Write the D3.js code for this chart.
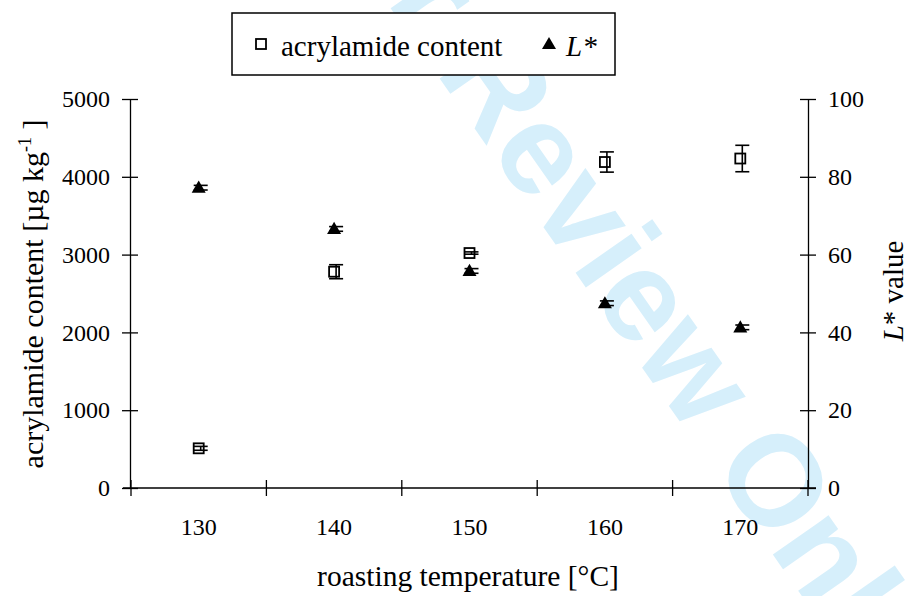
<!DOCTYPE html>
<html>
<head>
<meta charset="utf-8">
<script src="https://cdn.jsdelivr.net/npm/d3@7"></script>
<style>
  body { margin: 0; background: #fff; }
  svg text { font-family: "Liberation Serif", "Times New Roman", serif; fill: #000; }
</style>
</head>
<body>
<svg id="chart" width="909" height="596"></svg>
<script>
// data
const temperatures = ['130', '140', '150', '160', '170'];
const acrylamide = [510, 2780, 3020, 4190, 4235];
const acrylamideErr = [25, 90, 15, 130, 170];
const lightness = [77.2, 66.6, 55.8, 47.5, 41.3];
const lightnessErr = [0.6, 0.6, 0.6, 0.6, 0.6];
const leftTicks = [0, 1000, 2000, 3000, 4000, 5000];
const rightTicks = [0, 20, 40, 60, 80, 100];

const svg = d3.select('#chart');

const plotLeft = 131, plotRight = 808, plotTop = 99, plotBottom = 488;

const x = d3.scaleBand().domain(temperatures).range([plotLeft, plotRight]).padding(0);
const yL = d3.scaleLinear().domain([0, 5000]).range([plotBottom, plotTop]);
const yR = d3.scaleLinear().domain([0, 100]).range([plotBottom, plotTop]);

// watermark behind the chart
svg.append('text')
  .attr('transform', 'translate(295,-128) rotate(55)')
  .style('font-family', '"Liberation Sans", Arial, sans-serif')
  .style('font-weight', 'bold')
  .style('font-size', '129px')
  .style('fill', '#d6effb')
  .text('For Review Only');

// axes
function styleAxis(g) {
  g.attr('font-family', null).attr('font-size', null);
  g.selectAll('path.domain').attr('stroke', '#000').attr('stroke-width', 1.3);
  g.selectAll('.tick line').attr('stroke', '#000').attr('stroke-width', 1.3);
  g.selectAll('.tick text').style('font-size', '24px');
}

const gL = svg.append('g')
  .attr('transform', `translate(${plotLeft - 1},0)`)
  .call(d3.axisLeft(yL).tickValues(leftTicks).tickFormat(d3.format('d'))
    .tickSize(8).tickSizeOuter(0).tickPadding(12));
gL.selectAll('.tick line').attr('x2', 8).attr('x1', -8);
styleAxis(gL);

const gR = svg.append('g')
  .attr('transform', `translate(${plotRight},0)`)
  .call(d3.axisRight(yR).tickValues(rightTicks).tickFormat(d3.format('d'))
    .tickSize(8).tickSizeOuter(0).tickPadding(12));
gR.selectAll('.tick line').attr('x1', -8).attr('x2', 8);
styleAxis(gR);

// x axis: ticks at band edges, labels at band centres
const gX = svg.append('g').attr('transform', `translate(0,${plotBottom})`);
gX.append('line').attr('x1', plotLeft - 8).attr('x2', plotRight + 8).attr('stroke', '#000').attr('stroke-width', 1.3);
const edges = temperatures.map(d => x(d)).concat([x(temperatures[temperatures.length - 1]) + x.bandwidth()]);
gX.selectAll('line.edge').data(edges).enter().append('line')
  .attr('class', 'edge')
  .attr('x1', d => d).attr('x2', d => d)
  .attr('y1', -8).attr('y2', 8)
  .attr('stroke', '#000').attr('stroke-width', 1.3);
gX.selectAll('text').data(temperatures).enter().append('text')
  .attr('x', d => x(d) + x.bandwidth() / 2)
  .attr('y', 47)
  .attr('text-anchor', 'middle')
  .style('font-size', '24px')
  .text(d => d);

// axis titles
svg.append('text')
  .attr('x', 468).attr('y', 586)
  .attr('text-anchor', 'middle')
  .style('font-size', '29.5px')
  .text('roasting temperature [°C]');

const tL = svg.append('text')
  .attr('transform', 'translate(43,294) rotate(-90)')
  .attr('text-anchor', 'middle')
  .style('font-size', '30px');
tL.append('tspan').text('acrylamide content [µg kg');
tL.append('tspan').attr('dy', -12).style('font-size', '18px').text('-1');
tL.append('tspan').attr('dy', 12).text(' ]');

const tR = svg.append('text')
  .attr('transform', 'translate(903,291) rotate(-90)')
  .attr('text-anchor', 'middle')
  .style('font-size', '29px');
tR.append('tspan').style('font-style', 'italic').text('L');
tR.append('tspan').text('* value');

// error bars
const cx = d => x(d) + x.bandwidth() / 2;
function errorBars(vals, errs, scale) {
  const g = svg.append('g').attr('stroke', '#000').attr('stroke-width', 1.6);
  temperatures.forEach((t, i) => {
    const ex = cx(t) + 2;
    const y1 = scale(vals[i] - errs[i]), y2 = scale(vals[i] + errs[i]);
    g.append('line').attr('x1', ex).attr('x2', ex).attr('y1', y1).attr('y2', y2);
    g.append('line').attr('x1', ex - 7).attr('x2', ex + 7).attr('y1', y1).attr('y2', y1);
    g.append('line').attr('x1', ex - 7).attr('x2', ex + 7).attr('y1', y2).attr('y2', y2);
  });
}

errorBars(acrylamide, acrylamideErr, yL);
errorBars(lightness, lightnessErr, yR);

// acrylamide markers: open squares
svg.append('g').selectAll('rect').data(acrylamide).enter().append('rect')
  .attr('x', (d, i) => cx(temperatures[i]) - 5)
  .attr('y', d => yL(d) - 5)
  .attr('width', 10).attr('height', 10)
  .attr('fill', 'none').attr('stroke', '#000').attr('stroke-width', 1.8);

// L* markers: filled triangles
const tri = d3.symbol().type(d3.symbolTriangle).size(85);
svg.append('g').selectAll('path').data(lightness).enter().append('path')
  .attr('d', tri)
  .attr('transform', (d, i) => `translate(${cx(temperatures[i])},${yR(d) + 1})`)
  .attr('fill', '#000');

// legend
const lg = svg.append('g');
lg.append('rect').attr('x', 232).attr('y', 13).attr('width', 383).attr('height', 62)
  .attr('fill', '#fff').attr('stroke', '#000').attr('stroke-width', 1.5);
lg.append('rect').attr('x', 256).attr('y', 39).attr('width', 10).attr('height', 10)
  .attr('fill', 'none').attr('stroke', '#000').attr('stroke-width', 1.8);
lg.append('text').attr('x', 281).attr('y', 56).style('font-size', '29px').text('acrylamide content');
lg.append('path').attr('d', tri).attr('transform', 'translate(549,45)').attr('fill', '#000');
const lt = lg.append('text').attr('x', 566).attr('y', 56).style('font-size', '29px');
lt.append('tspan').style('font-style', 'italic').text('L*');
</script>
</body>
</html>
